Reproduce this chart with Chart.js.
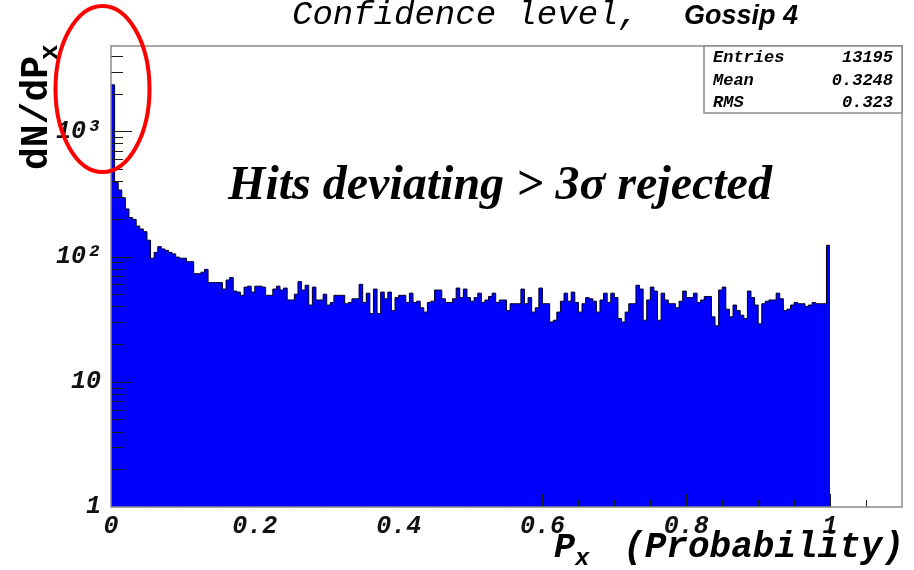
<!DOCTYPE html>
<html>
<head>
<meta charset="utf-8">
<script src="https://cdn.jsdelivr.net/npm/chart.js@4"></script>
<style>
  html, body { margin: 0; padding: 0; background: #fff; }
  #wrap { width: 914px; height: 570px; position: relative; }
</style>
</head>
<body>
<div id="wrap"><canvas id="clChart"></canvas></div>
<script>
// Confidence level histogram, 200 bins from 0 to 1 (log scale)
const binWidth = 0.005;
const counts = [
  2350, 390, 340, 295, 240, 205, 198, 175, 166, 158,
  135, 97, 108, 120, 115, 112, 108, 105, 99, 97,
  97, 91, 91, 73, 73, 75, 79, 62, 62, 62,
  62, 55, 65, 68, 53, 52, 49, 57, 58, 52,
  58, 58, 57, 49, 49, 55, 58, 54, 56, 45,
  45, 50, 63, 54, 59, 41, 57, 45, 45, 50,
  41, 43, 49, 49, 49, 42, 43, 46, 46, 60,
  43, 51, 35, 55, 35, 52, 46, 52, 37, 47,
  49, 49, 43, 51, 43, 44, 39, 36, 43, 44,
  54, 54, 46, 43, 43, 46, 56, 47, 55, 47,
  44, 47, 51, 43, 45, 48, 51, 43, 45, 45,
  37, 42, 42, 42, 55, 42, 47, 36, 39, 56,
  42, 42, 30, 31, 36, 44, 51, 44, 52, 43,
  36, 42, 47, 46, 44, 36, 45, 51, 43, 51,
  47, 32, 30, 36, 42, 42, 59, 55, 31, 45,
  57, 53, 31, 51, 45, 42, 42, 39, 44, 53,
  47, 47, 51, 43, 45, 48, 48, 33, 28, 54,
  57, 38, 33, 41, 37, 34, 32, 53, 47, 41,
  29, 42, 44, 45, 45, 51, 46, 37, 38, 41,
  43, 42, 42, 40, 41, 43, 42, 42, 42, 123
];

const xTickValues = [0, 0.2, 0.4, 0.6, 0.8, 1];
const xTickLabels = ["0", "0.2", "0.4", "0.6", "0.8", "1"];
const yTickValues = [1, 10, 100, 1000];
const yTickLabels = ["1", "10", "10²", "10³"];

const statNames = ["Entries", "Mean", "RMS"];
const statValues = ["13195", "0.3248", "0.323"];

const titleText = "Confidence level,";
const tagText = "Gossip 4";
const noteText = "Hits deviating > 3σ rejected";

const MONO = '"Liberation Mono", "DejaVu Sans Mono", monospace';

// step outline points: left edge of each bin, plus the closing edge at x=1
const histPoints = counts.map((c, i) => ({ x: i * binWidth, y: c }));
histPoints.push({ x: counts.length * binWidth, y: counts[counts.length - 1] });

const rootDecor = {
  id: "rootDecor",
  afterDatasetsDraw(chart) {
    const { ctx, chartArea: a, scales: { x, y } } = chart;
    ctx.save();
    // inward ticks, ROOT style
    ctx.strokeStyle = "#1a1a1a";
    ctx.lineWidth = 1;
    ctx.beginPath();
    for (let k = 1; k <= 21; k++) {
      const px = Math.round(x.getPixelForValue(k * 0.05)) + 0.5;
      const len = k % 4 === 0 ? 13 : 7;
      ctx.moveTo(px, a.bottom);
      ctx.lineTo(px, a.bottom - len);
    }
    for (const dec of yTickValues) {
      for (let m = 1; m <= 9; m++) {
        const v = dec * m;
        if (v <= 1 || v > y.max) continue;
        const py = Math.round(y.getPixelForValue(v)) + 0.5;
        const len = m === 1 ? 21 : 12;
        ctx.moveTo(a.left, py);
        ctx.lineTo(a.left + len, py);
      }
    }
    ctx.stroke();
    // frame
    ctx.strokeStyle = "#8a8a8a";
    ctx.lineWidth = 1.5;
    ctx.strokeRect(a.left, a.top, a.right - a.left, a.bottom - a.top);
    ctx.restore();
  },
  afterDraw(chart) {
    const { ctx, chartArea: a } = chart;
    ctx.save();
    ctx.fillStyle = "#000";
    ctx.textBaseline = "alphabetic";

    // title
    ctx.font = "italic 34px " + MONO;
    ctx.textAlign = "left";
    ctx.fillText(titleText, 292, 24);
    ctx.font = 'italic bold 27px "Liberation Sans", Arial, sans-serif';
    ctx.fillText(tagText, 684, 24);

    // stats box
    const bx = 704, by = a.top, bw = a.right - 704, bh = 67;
    ctx.fillStyle = "#fff";
    ctx.fillRect(bx, by, bw, bh);
    ctx.strokeStyle = "#8a8a8a";
    ctx.lineWidth = 1.5;
    ctx.strokeRect(bx, by, bw, bh);
    ctx.fillStyle = "#000";
    ctx.font = "italic bold 17px " + MONO;
    statNames.forEach((name, i) => {
      const base = 62 + i * 22.5;
      ctx.textAlign = "left";
      ctx.fillText(name, bx + 9, base);
      ctx.textAlign = "right";
      ctx.fillText(statValues[i], a.right - 9, base);
    });

    // annotation
    ctx.textAlign = "center";
    ctx.font = 'italic bold 48px "Liberation Serif", "Times New Roman", serif';
    ctx.fillText(noteText, 500, 199);

    // y title, rotated
    ctx.save();
    ctx.translate(47, 170);
    ctx.rotate(-Math.PI / 2);
    ctx.textAlign = "left";
    ctx.font = "bold 38px " + MONO;
    ctx.fillText("dN/dP", 0, 0);
    const wy = ctx.measureText("dN/dP").width;
    ctx.font = "bold 26px " + MONO;
    ctx.fillText("x", wy - 4, 10);
    ctx.restore();

    // x title
    ctx.textAlign = "left";
    ctx.font = "italic bold 35px " + MONO;
    ctx.fillText("P", 554, 557);
    const wp = ctx.measureText("P").width;
    ctx.font = "italic bold 24px " + MONO;
    ctx.fillText("x", 554 + wp, 565);
    ctx.textAlign = "right";
    ctx.font = "italic bold 36px " + MONO;
    ctx.fillText("(Probability)", 904, 557);

    // red ellipse marking the first bin
    ctx.strokeStyle = "#ff0000";
    ctx.lineWidth = 4;
    ctx.beginPath();
    ctx.ellipse(102.5, 89, 47, 83, 0, 0, Math.PI * 2);
    ctx.stroke();
    ctx.restore();
  }
};

new Chart(document.getElementById("clChart"), {
  type: "line",
  data: {
    datasets: [{
      label: "Confidence level",
      data: histPoints,
      stepped: "before",
      fill: "start",
      backgroundColor: "#0000ff",
      borderColor: "#000022",
      borderWidth: 1,
      pointRadius: 0,
      tension: 0
    }]
  },
  options: {
    responsive: true,
    maintainAspectRatio: false,
    animation: false,
    events: [],
    layout: { padding: { top: 46, right: 12, bottom: 0, left: 0 } },
    plugins: { legend: { display: false }, tooltip: { enabled: false }, title: { display: false } },
    scales: {
      x: {
        type: "linear",
        min: 0,
        max: 1.1,
        grid: { display: false, drawTicks: false },
        border: { display: false },
        afterBuildTicks: (s) => { s.ticks = xTickValues.map(v => ({ value: v })); },
        afterFit: (s) => { s.height = 63; },
        ticks: {
          autoSkip: false,
          maxRotation: 0,
          padding: 5,
          color: "#111",
          font: { family: MONO, size: 25, style: "italic", weight: "bold" },
          callback: (v, i) => xTickLabels[i]
        }
      },
      y: {
        type: "logarithmic",
        min: 1,
        max: 4800,
        grid: { display: false, drawTicks: false },
        border: { display: false },
        afterBuildTicks: (s) => { s.ticks = yTickValues.map(v => ({ value: v })); },
        afterFit: (s) => { s.width = 111; },
        ticks: {
          autoSkip: false,
          padding: 10,
          color: "#111",
          font: { family: MONO, size: 25, style: "italic", weight: "bold" },
          callback: (v, i) => yTickLabels[i]
        }
      }
    }
  },
  plugins: [rootDecor]
});
</script>
</body>
</html>
